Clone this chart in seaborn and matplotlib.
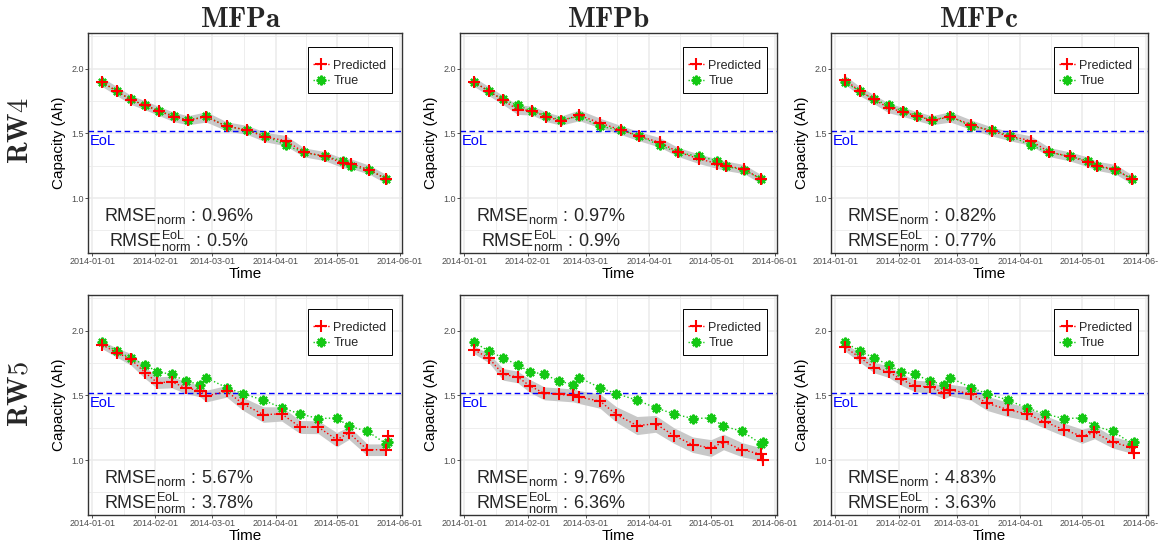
import numpy as np
import pandas as pd
import matplotlib
matplotlib.use("Agg")
import matplotlib.pyplot as plt
import matplotlib.dates as mdates
import matplotlib.ticker as mticker
from matplotlib.lines import Line2D
import seaborn as sns

sns.set_theme(style="whitegrid")
plt.rcParams["font.family"] = ["Liberation Sans", "DejaVu Sans"]
plt.rcParams["mathtext.fontset"] = "custom"
plt.rcParams["mathtext.rm"] = "Liberation Sans"
plt.rcParams["mathtext.it"] = "Liberation Sans:italic"
plt.rcParams["mathtext.bf"] = "Liberation Sans:bold"
plt.rcParams["mathtext.sf"] = "Liberation Sans"
plt.rcParams["mathtext.default"] = "regular"

# ---------------------------------------------------------------- data
methods = ["MFPa", "MFPb", "MFPc"]
batteries = ["RW4", "RW5"]
EOL = 1.52

dates_rw4 = ["2014-01-06", "2014-01-13", "2014-01-20", "2014-01-27", "2014-02-03",
             "2014-02-10", "2014-02-17", "2014-02-26", "2014-03-08", "2014-03-18",
             "2014-03-27", "2014-04-06", "2014-04-15", "2014-04-25", "2014-05-04",
             "2014-05-08", "2014-05-17", "2014-05-25"]
true_rw4 = [1.896, 1.825, 1.763, 1.718, 1.672, 1.638, 1.602, 1.633, 1.555, 1.527,
            1.482, 1.408, 1.353, 1.322, 1.289, 1.245, 1.219, 1.149]
pred_rw4_mfpa = [1.897, 1.829, 1.760, 1.718, 1.672, 1.628, 1.602, 1.628, 1.555, 1.527,
                 1.472, 1.444, 1.353, 1.325, 1.271, 1.266, 1.219, 1.149]
pred_rw4_mfpb = [1.897, 1.827, 1.757, 1.684, 1.677, 1.628, 1.599, 1.640, 1.581, 1.527,
                 1.478, 1.431, 1.356, 1.304, 1.266, 1.250, 1.224, 1.149]
pred_rw4_mfpc = [1.912, 1.827, 1.763, 1.697, 1.666, 1.633, 1.602, 1.628, 1.568, 1.516,
                 1.478, 1.444, 1.356, 1.322, 1.279, 1.250, 1.224, 1.147]
band_rw4_mfpa = [0.035, 0.035, 0.035, 0.035, 0.035, 0.037, 0.035, 0.04, 0.035, 0.035,
                 0.037, 0.04, 0.035, 0.035, 0.037, 0.037, 0.035, 0.035]
band_rw4_mfpb = [0.035, 0.035, 0.035, 0.037, 0.035, 0.037, 0.035, 0.042, 0.037, 0.035,
                 0.035, 0.037, 0.035, 0.037, 0.037, 0.037, 0.035, 0.035]
band_rw4_mfpc = [0.035, 0.035, 0.035, 0.037, 0.035, 0.035, 0.035, 0.04, 0.037, 0.035,
                 0.035, 0.037, 0.035, 0.035, 0.037, 0.035, 0.037, 0.035]

dates_rw5 = ["2014-01-06", "2014-01-13", "2014-01-20", "2014-01-27", "2014-02-02",
             "2014-02-09", "2014-02-16", "2014-02-23", "2014-02-26", "2014-03-08",
             "2014-03-16", "2014-03-26", "2014-04-04", "2014-04-13", "2014-04-22",
             "2014-05-01", "2014-05-07", "2014-05-16", "2014-05-25", "2014-05-26"]
true_rw5 = [1.910, 1.842, 1.790, 1.736, 1.684, 1.663, 1.611, 1.584, 1.637, 1.560,
            1.513, 1.464, 1.404, 1.357, 1.321, 1.326, 1.262, 1.223, 1.128, 1.142]
pred_rw5_mfpa = [1.891, 1.832, 1.780, 1.676, 1.599, 1.604, 1.560, 1.534, 1.495, 1.532,
                 1.435, 1.352, 1.357, 1.256, 1.254, 1.158, 1.210, 1.080, 1.080, 1.184]
pred_rw5_mfpb = [1.852, 1.788, 1.663, 1.643, 1.573, 1.516, 1.508, 1.500, 1.487, 1.456,
                 1.352, 1.267, 1.280, 1.189, 1.119, 1.093, 1.140, 1.080, 1.046, 0.997]
pred_rw5_mfpc = [1.871, 1.793, 1.715, 1.684, 1.624, 1.573, 1.565, 1.521, 1.541, 1.513,
                 1.438, 1.391, 1.357, 1.295, 1.236, 1.184, 1.215, 1.137, 1.098, 1.054]
band_rw5_mfpa = [0.03, 0.035, 0.045, 0.045, 0.045, 0.045, 0.045, 0.045, 0.045, 0.045,
                 0.05, 0.06, 0.055, 0.05, 0.05, 0.055, 0.05, 0.045, 0.045, 0.045]
band_rw5_mfpb = [0.03, 0.035, 0.045, 0.045, 0.05, 0.05, 0.05, 0.05, 0.05, 0.055,
                 0.06, 0.07, 0.065, 0.06, 0.06, 0.065, 0.06, 0.055, 0.05, 0.05]
band_rw5_mfpc = [0.03, 0.035, 0.04, 0.045, 0.045, 0.045, 0.045, 0.045, 0.045, 0.05,
                 0.055, 0.055, 0.05, 0.05, 0.05, 0.055, 0.05, 0.045, 0.045, 0.045]

rmse_norm_rw4 = ["0.96", "0.97", "0.82"]
rmse_eol_rw4 = ["0.5", "0.9", "0.77"]
rmse_norm_rw5 = ["5.67", "9.76", "4.83"]
rmse_eol_rw5 = ["3.78", "6.36", "3.63"]

# ---------------------------------------------------------------- style
RED = "#FF0000"
GREEN = "#14C814"
BAND = "#C8C8C8"
EOL_BLUE = "#0000FF"
GRID = "#EBEBEB"
BORDER = "#333333"
TICK_TXT = "#4D4D4D"

W, H = 1158, 548
fig = plt.figure(figsize=(W / 100, H / 100), dpi=100)

col_left = [88, 460, 831]
col_width = [314, 317, 317]
row_top = [33, 295]
PANEL_H = 220
title_cx = [241, 609, 979]
row_label_cy = [130.5, 394]

# shared time scale (ggplot-style 5 % expansion of the full date range)
all_dates = pd.to_datetime(dates_rw4 + dates_rw5)
T0 = mdates.date2num(all_dates.min())
T1 = mdates.date2num(all_dates.max())
XPAD = 0.05 * (T1 - T0)


def px_rect(left, top, width, height):
    return [left / W, 1 - (top + height) / H, width / W, height / H]


def draw_panel(ax, width, dates, true_vals, pred_vals, half_band, rmse, rmse_eol):
    df = pd.DataFrame({"Time": pd.to_datetime(dates),
                       "True": true_vals, "Predicted": pred_vals})
    pred = df["Predicted"].to_numpy()
    band = np.asarray(half_band)
    ax.fill_between(df["Time"], pred - band, pred + band, color=BAND, lw=0, zorder=1)
    ax.axhline(EOL, color=EOL_BLUE, lw=1.0, ls=(0, (4, 2.5)), zorder=2)
    sns.lineplot(data=df, x="Time", y="True", ax=ax, color=GREEN, lw=1.0,
                 linestyle=":", marker=(8, 2, 0), markersize=7, mew=1.5, mec=GREEN,
                 estimator=None, zorder=3)
    sns.lineplot(data=df, x="Time", y="Predicted", ax=ax, color=RED, lw=1.0,
                 linestyle=":", marker="+", markersize=9, mew=1.5, mec=RED,
                 estimator=None, zorder=4)

    ax.set_xlim(T0 - XPAD, T1 + XPAD)
    ax.set_ylim(0.575, 2.277)

    ax.yaxis.set_major_locator(mticker.FixedLocator([1.0, 1.5, 2.0]))
    ax.yaxis.set_minor_locator(mticker.FixedLocator([0.75, 1.25, 1.75, 2.25]))
    ax.yaxis.set_major_formatter(mticker.FormatStrFormatter("%.1f"))
    month_starts = pd.date_range("2013-12-01", "2014-07-01", freq="MS")
    ax.xaxis.set_major_locator(mdates.MonthLocator())
    ax.xaxis.set_major_formatter(mdates.DateFormatter("%Y-%m-%d"))
    mnum = mdates.date2num(month_starts)
    ax.xaxis.set_minor_locator(mticker.FixedLocator((mnum[:-1] + mnum[1:]) / 2))

    ax.set_facecolor("white")
    ax.set_axisbelow(True)
    ax.grid(True, which="major", color=GRID, lw=1.1)
    ax.grid(True, which="minor", color=GRID, lw=0.6)
    for s in ax.spines.values():
        s.set_visible(True)
        s.set_color(BORDER)
        s.set_linewidth(1.0)
    ax.tick_params(which="major", bottom=True, left=True, length=2.0, width=0.6,
                   color=BORDER, pad=0.8, labelsize=6.5, labelcolor=TICK_TXT)
    ax.tick_params(which="minor", length=0)

    ax.set_xlabel("Time", fontsize=11, color="black")
    ax.set_ylabel("Capacity (Ah)", fontsize=11, color="black")
    ax.xaxis.set_label_coords(0.5, -13.5 / PANEL_H)
    ax.yaxis.set_label_coords(-22 / width, 0.5)

    ax.text(0.005, 0.491, "EoL", color=EOL_BLUE, fontsize=10.5,
            transform=ax.transAxes, ha="left", va="baseline")
    ax.text(0.288, 0.145, rf"$\mathrm{{RMSE}}_{{\mathrm{{norm}}}}\,:\,{rmse}\%$",
            transform=ax.transAxes, ha="center", va="baseline", fontsize=13)
    ax.text(0.288, 0.026,
            rf"$\mathrm{{RMSE}}^{{\mathrm{{EoL}}}}_{{\mathrm{{norm}}}}\,:\,{rmse_eol}\%$",
            transform=ax.transAxes, ha="center", va="baseline", fontsize=13)

    handles = [
        Line2D([], [], color=RED, ls=":", lw=1.0, marker="+", ms=9, mew=1.5),
        Line2D([], [], color=GREEN, ls=":", lw=1.0, marker=(8, 2, 0), ms=7, mew=1.5),
    ]
    leg = ax.legend(handles, ["Predicted", "True"], loc="upper right",
                    bbox_to_anchor=(1 - 10 / width, 1 - 14 / PANEL_H),
                    borderaxespad=0, frameon=True, fancybox=False,
                    edgecolor="black", framealpha=1, fontsize=9,
                    handlelength=1.3, handletextpad=0.3, borderpad=0.45,
                    labelspacing=0.25, title=" ", title_fontsize=3)
    leg.get_frame().set_linewidth(0.7)


rows = [
    (dates_rw4, true_rw4, [pred_rw4_mfpa, pred_rw4_mfpb, pred_rw4_mfpc],
     [band_rw4_mfpa, band_rw4_mfpb, band_rw4_mfpc], rmse_norm_rw4, rmse_eol_rw4),
    (dates_rw5, true_rw5, [pred_rw5_mfpa, pred_rw5_mfpb, pred_rw5_mfpc],
     [band_rw5_mfpa, band_rw5_mfpb, band_rw5_mfpc], rmse_norm_rw5, rmse_eol_rw5),
]

for r, (dates, true_vals, preds, bands, rmses, rmse_eols) in enumerate(rows):
    for c in range(3):
        ax = fig.add_axes(px_rect(col_left[c], row_top[r], col_width[c], PANEL_H))
        draw_panel(ax, col_width[c], dates, true_vals, preds[c], bands[c],
                   rmses[c], rmse_eols[c])

for c, name in enumerate(methods):
    fig.text(title_cx[c] / W, 1 - 27 / H, rf"$\mathbf{{{name}}}$", math_fontfamily="cm",
             fontsize=21, ha="center", va="baseline")
for r, name in enumerate(batteries):
    fig.text(21 / W, 1 - row_label_cy[r] / H, rf"$\mathbf{{{name}}}$",
             math_fontfamily="cm", fontsize=20.5, rotation=90, ha="center", va="center")

fig.savefig("out.png", dpi=100)
